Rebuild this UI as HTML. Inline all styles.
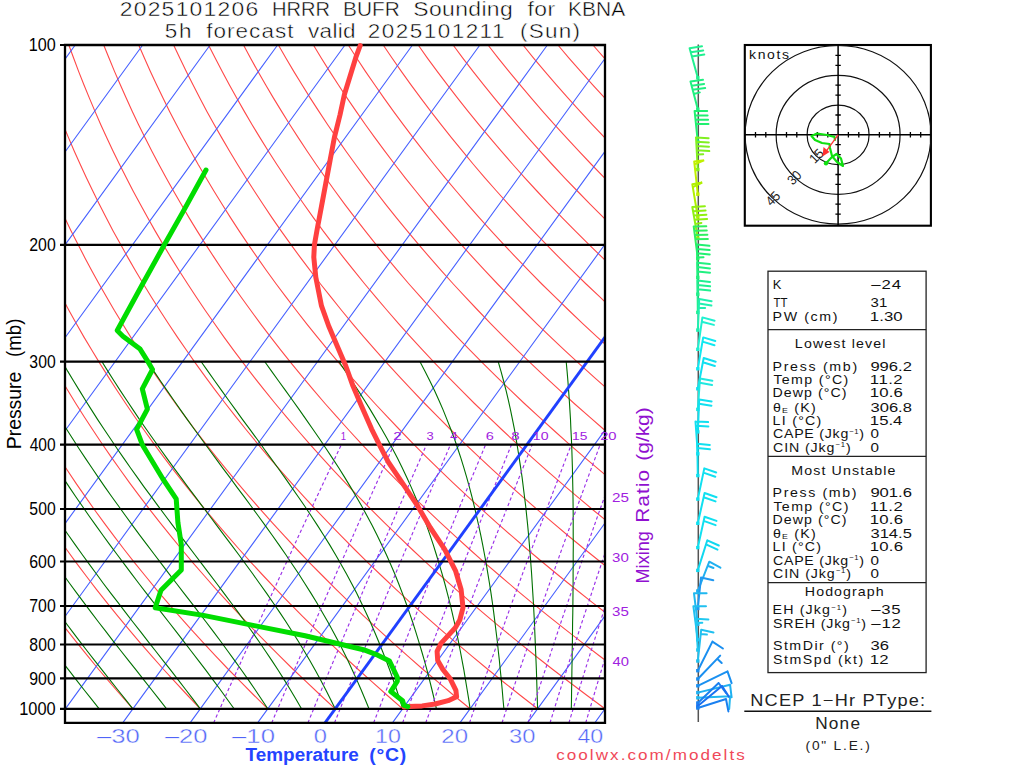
<!DOCTYPE html><html><head><meta charset="utf-8"><style>html,body{margin:0;padding:0;background:#fff;overflow:hidden}svg{display:block;}text{font-family:"Liberation Sans",sans-serif;}</style></head><body>
<svg width="1024" height="768" viewBox="0 0 1024 768">
<rect width="1024" height="768" fill="#fff"/>
<g fill="none" stroke-width="1.1">
<path d="M65.4,708.8 L65.0,708.3 M132.9,708.8 L121.1,695.5 L109.6,682.2 L98.3,669.0 L87.4,655.7 L76.7,642.4 L66.2,629.1 L65.0,627.5 M200.3,708.8 L187.7,695.5 L175.3,682.2 L163.2,669.0 L151.4,655.7 L139.8,642.4 L128.6,629.1 L117.6,615.9 L106.9,602.6 L96.4,589.3 L86.2,576.0 L76.3,562.8 L66.6,549.5 L65.0,547.2 M267.8,708.8 L254.2,695.5 L241.0,682.2 L228.0,669.0 L215.3,655.7 L203.0,642.4 L190.9,629.1 L179.1,615.9 L167.6,602.6 L156.3,589.3 L145.4,576.0 L134.7,562.8 L124.2,549.5 L114.0,536.2 L104.1,522.9 L94.5,509.7 L85.1,496.4 L75.9,483.1 L67.0,469.8 L65.0,466.8 M335.2,708.8 L320.8,695.5 L306.7,682.2 L292.8,669.0 L279.3,655.7 L266.1,642.4 L253.2,629.1 L240.6,615.9 L228.3,602.6 L216.2,589.3 L204.5,576.0 L193.0,562.8 L181.8,549.5 L170.9,536.2 L160.2,522.9 L149.8,509.7 L139.7,496.4 L129.8,483.1 L120.2,469.8 L110.9,456.6 L101.7,443.3 L92.9,430.0 L84.2,416.7 L75.8,403.5 L67.7,390.2 L65.0,385.7 M402.7,708.8 L387.4,695.5 L372.4,682.2 L357.7,669.0 L343.3,655.7 L329.3,642.4 L315.5,629.1 L302.1,615.9 L289.0,602.6 L276.2,589.3 L263.6,576.0 L251.4,562.8 L239.4,549.5 L227.7,536.2 L216.3,522.9 L205.2,509.7 L194.4,496.4 L183.8,483.1 L173.4,469.8 L163.4,456.6 L153.6,443.3 L144.0,430.0 L134.7,416.7 L125.7,403.5 L116.9,390.2 L108.3,376.9 L100.0,363.6 L91.9,350.3 L84.0,337.1 L76.4,323.8 L69.0,310.5 L65.0,303.1 M470.1,708.8 L453.9,695.5 L438.1,682.2 L422.5,669.0 L407.3,655.7 L392.4,642.4 L377.9,629.1 L363.6,615.9 L349.7,602.6 L336.1,589.3 L322.8,576.0 L309.7,562.8 L297.0,549.5 L284.6,536.2 L272.4,522.9 L260.6,509.7 L249.0,496.4 L237.7,483.1 L226.7,469.8 L215.9,456.6 L205.4,443.3 L195.2,430.0 L185.2,416.7 L175.5,403.5 L166.1,390.2 L156.9,376.9 L147.9,363.6 L139.2,350.3 L130.7,337.1 L122.5,323.8 L114.4,310.5 L106.7,297.2 L99.1,284.0 L91.8,270.7 L84.7,257.4 L77.8,244.1 L71.1,230.9 L65.0,218.2 M537.6,708.8 L520.5,695.5 L503.8,682.2 L487.4,669.0 L471.3,655.7 L455.6,642.4 L440.2,629.1 L425.1,615.9 L410.4,602.6 L396.0,589.3 L381.9,576.0 L368.1,562.8 L354.6,549.5 L341.4,536.2 L328.5,522.9 L315.9,509.7 L303.6,496.4 L291.6,483.1 L279.9,469.8 L268.4,456.6 L257.3,443.3 L246.4,430.0 L235.7,416.7 L225.4,403.5 L215.2,390.2 L205.4,376.9 L195.8,363.6 L186.5,350.3 L177.4,337.1 L168.5,323.8 L159.9,310.5 L151.5,297.2 L143.4,284.0 L135.5,270.7 L127.8,257.4 L120.4,244.1 L113.1,230.9 L106.1,217.6 L99.3,204.3 L92.8,191.0 L86.4,177.8 L80.3,164.5 L74.3,151.2 L68.6,137.9 L65.0,129.3 M605.0,708.8 L587.1,695.5 L569.5,682.2 L552.2,669.0 L535.3,655.7 L518.7,642.4 L502.5,629.1 L486.7,615.9 L471.1,602.6 L455.9,589.3 L441.0,576.0 L426.5,562.8 L412.2,549.5 L398.3,536.2 L384.6,522.9 L371.3,509.7 L358.3,496.4 L345.6,483.1 L333.1,469.8 L321.0,456.6 L309.1,443.3 L297.5,430.0 L286.2,416.7 L275.2,403.5 L264.4,390.2 L253.9,376.9 L243.7,363.6 L233.7,350.3 L224.0,337.1 L214.6,323.8 L205.3,310.5 L196.4,297.2 L187.7,284.0 L179.2,270.7 L170.9,257.4 L162.9,244.1 L155.1,230.9 L147.6,217.6 L140.3,204.3 L133.1,191.0 L126.3,177.8 L119.6,164.5 L113.1,151.2 L106.9,137.9 L100.8,124.7 L95.0,111.4 L89.4,98.1 L83.9,84.8 L78.7,71.6 L73.7,58.3 L68.8,45.0 M605.0,660.0 L599.3,655.7 L581.9,642.4 L564.9,629.1 L548.2,615.9 L531.8,602.6 L515.8,589.3 L500.2,576.0 L484.8,562.8 L469.8,549.5 L455.1,536.2 L440.7,522.9 L426.7,509.7 L412.9,496.4 L399.5,483.1 L386.4,469.8 L373.5,456.6 L361.0,443.3 L348.7,430.0 L336.7,416.7 L325.0,403.5 L313.6,390.2 L302.5,376.9 L291.6,363.6 L281.0,350.3 L270.7,337.1 L260.6,323.8 L250.8,310.5 L241.2,297.2 L231.9,284.0 L222.9,270.7 L214.1,257.4 L205.5,244.1 L197.1,230.9 L189.0,217.6 L181.2,204.3 L173.5,191.0 L166.1,177.8 L158.9,164.5 L151.9,151.2 L145.2,137.9 L138.6,124.7 L132.3,111.4 L126.2,98.1 L120.3,84.8 L114.6,71.6 L109.1,58.3 L103.7,45.0 M605.0,612.2 L592.5,602.6 L575.7,589.3 L559.3,576.0 L543.2,562.8 L527.4,549.5 L512.0,536.2 L496.8,522.9 L482.1,509.7 L467.6,496.4 L453.4,483.1 L439.6,469.8 L426.0,456.6 L412.8,443.3 L399.9,430.0 L387.2,416.7 L374.9,403.5 L362.8,390.2 L351.0,376.9 L339.5,363.6 L328.3,350.3 L317.4,337.1 L306.7,323.8 L296.3,310.5 L286.1,297.2 L276.2,284.0 L266.6,270.7 L257.2,257.4 L248.0,244.1 L239.1,230.9 L230.5,217.6 L222.1,204.3 L213.9,191.0 L206.0,177.8 L198.2,164.5 L190.8,151.2 L183.5,137.9 L176.5,124.7 L169.6,111.4 L163.0,98.1 L156.6,84.8 L150.4,71.6 L144.5,58.3 L138.7,45.0 M605.0,565.5 L601.5,562.8 L585.0,549.5 L568.8,536.2 L553.0,522.9 L537.4,509.7 L522.2,496.4 L507.4,483.1 L492.8,469.8 L478.6,456.6 L464.6,443.3 L451.0,430.0 L437.7,416.7 L424.7,403.5 L412.0,390.2 L399.6,376.9 L387.4,363.6 L375.6,350.3 L364.0,337.1 L352.7,323.8 L341.7,310.5 L331.0,297.2 L320.5,284.0 L310.3,270.7 L300.3,257.4 L290.6,244.1 L281.1,230.9 L271.9,217.6 L263.0,204.3 L254.3,191.0 L245.8,177.8 L237.6,164.5 L229.6,151.2 L221.8,137.9 L214.3,124.7 L206.9,111.4 L199.8,98.1 L193.0,84.8 L186.3,71.6 L179.9,58.3 L173.6,45.0 M605.0,519.6 L592.8,509.7 L576.9,496.4 L561.3,483.1 L546.0,469.8 L531.1,456.6 L516.5,443.3 L502.2,430.0 L488.2,416.7 L474.5,403.5 L461.2,390.2 L448.1,376.9 L435.3,363.6 L422.9,350.3 L410.7,337.1 L398.8,323.8 L387.2,310.5 L375.8,297.2 L364.8,284.0 L354.0,270.7 L343.4,257.4 L333.2,244.1 L323.1,230.9 L313.4,217.6 L303.9,204.3 L294.7,191.0 L285.7,177.8 L276.9,164.5 L268.4,151.2 L260.1,137.9 L252.1,124.7 L244.3,111.4 L236.7,98.1 L229.3,84.8 L222.2,71.6 L215.3,58.3 L208.5,45.0 M605.0,474.6 L599.3,469.8 L583.6,456.6 L568.3,443.3 L553.4,430.0 L538.7,416.7 L524.4,403.5 L510.4,390.2 L496.7,376.9 L483.3,363.6 L470.2,350.3 L457.3,337.1 L444.8,323.8 L432.6,310.5 L420.7,297.2 L409.0,284.0 L397.6,270.7 L386.5,257.4 L375.7,244.1 L365.2,230.9 L354.9,217.6 L344.8,204.3 L335.0,191.0 L325.5,177.8 L316.2,164.5 L307.2,151.2 L298.4,137.9 L289.9,124.7 L281.6,111.4 L273.5,98.1 L265.6,84.8 L258.0,71.6 L250.6,58.3 L243.5,45.0 M605.0,430.4 L604.5,430.0 L589.2,416.7 L574.2,403.5 L559.6,390.2 L545.2,376.9 L531.2,363.6 L517.4,350.3 L504.0,337.1 L490.9,323.8 L478.1,310.5 L465.5,297.2 L453.3,284.0 L441.3,270.7 L429.7,257.4 L418.3,244.1 L407.2,230.9 L396.3,217.6 L385.7,204.3 L375.4,191.0 L365.4,177.8 L355.6,164.5 L346.0,151.2 L336.7,137.9 L327.7,124.7 L318.9,111.4 L310.3,98.1 L302.0,84.8 L293.9,71.6 L286.0,58.3 L278.4,45.0 M605.0,386.9 L593.7,376.9 L579.1,363.6 L564.7,350.3 L550.7,337.1 L536.9,323.8 L523.5,310.5 L510.4,297.2 L497.6,284.0 L485.0,270.7 L472.8,257.4 L460.8,244.1 L449.2,230.9 L437.8,217.6 L426.6,204.3 L415.8,191.0 L405.2,177.8 L394.9,164.5 L384.8,151.2 L375.0,137.9 L365.5,124.7 L356.2,111.4 L347.1,98.1 L338.3,84.8 L329.8,71.6 L321.4,58.3 L313.4,45.0 M605.0,344.0 L597.3,337.1 L583.0,323.8 L569.0,310.5 L555.3,297.2 L541.8,284.0 L528.7,270.7 L515.9,257.4 L503.4,244.1 L491.2,230.9 L479.2,217.6 L467.6,204.3 L456.2,191.0 L445.1,177.8 L434.2,164.5 L423.6,151.2 L413.3,137.9 L403.3,124.7 L393.5,111.4 L384.0,98.1 L374.7,84.8 L365.6,71.6 L356.8,58.3 L348.3,45.0 M605.0,301.8 L600.1,297.2 L586.1,284.0 L572.4,270.7 L559.0,257.4 L546.0,244.1 L533.2,230.9 L520.7,217.6 L508.5,204.3 L496.5,191.0 L484.9,177.8 L473.5,164.5 L462.5,151.2 L451.6,137.9 L441.1,124.7 L430.8,111.4 L420.8,98.1 L411.0,84.8 L401.5,71.6 L392.2,58.3 L383.2,45.0 M605.0,260.1 L602.2,257.4 L588.5,244.1 L575.2,230.9 L562.1,217.6 L549.4,204.3 L536.9,191.0 L524.8,177.8 L512.9,164.5 L501.3,151.2 L490.0,137.9 L478.9,124.7 L468.1,111.4 L457.6,98.1 L447.4,84.8 L437.4,71.6 L427.6,58.3 L418.2,45.0 M605.0,219.0 L603.6,217.6 L590.3,204.3 L577.3,191.0 L564.6,177.8 L552.2,164.5 L540.1,151.2 L528.3,137.9 L516.7,124.7 L505.4,111.4 L494.4,98.1 L483.7,84.8 L473.2,71.6 L463.0,58.3 L453.1,45.0 M605.0,178.3 L604.5,177.8 L591.5,164.5 L578.9,151.2 L566.6,137.9 L554.5,124.7 L542.7,111.4 L531.3,98.1 L520.1,84.8 L509.1,71.6 L498.4,58.3 L488.0,45.0 M605.0,138.1 L604.9,137.9 L592.3,124.7 L580.1,111.4 L568.1,98.1 L556.4,84.8 L545.0,71.6 L533.8,58.3 L523.0,45.0 M605.0,98.2 L604.9,98.1 L592.7,84.8 L580.9,71.6 L569.2,58.3 L557.9,45.0 M605.0,58.7 L604.6,58.3 L592.9,45.0" stroke="#ff4848"/>
<path d="M65.0,59.1 L75.2,45.0 M65.0,152.0 L142.7,45.0 M65.0,244.9 L210.1,45.0 M65.0,337.8 L277.6,45.0 M65.0,430.7 L345.0,45.0 M65.0,523.6 L412.5,45.0 M65.0,616.5 L479.9,45.0 M65.0,709.4 L547.4,45.0 M122.7,722.9 L605.0,58.5 M190.1,722.9 L605.0,151.4 M257.6,722.9 L605.0,244.3 M392.4,722.9 L605.0,430.1 M459.9,722.9 L605.0,523.0 M527.4,722.9 L605.0,615.9 M594.8,722.9 L605.0,708.8" stroke="#4660ff"/>
<path d="M65.4,708.8 L65.0,708.2 M99.2,708.8 L91.5,699.2 L83.8,689.5 L76.3,679.9 L68.8,670.2 L65.0,665.3 M132.9,708.8 L125.2,699.2 L117.5,689.5 L109.9,679.9 L102.2,670.2 L94.7,660.6 L87.2,651.0 L79.8,641.3 L72.4,631.7 L65.2,622.0 L65.0,621.8 M166.6,708.8 L159.0,699.2 L151.4,689.5 L143.8,679.9 L136.2,670.2 L128.6,660.6 L121.0,651.0 L113.4,641.3 L106.0,631.7 L98.5,622.0 L91.2,612.4 L83.9,602.7 L76.8,593.1 L69.7,583.5 L65.0,577.0 M200.3,708.8 L193.0,699.2 L185.6,689.5 L178.2,679.9 L170.7,670.2 L163.1,660.6 L155.6,651.0 L148.0,641.3 L140.5,631.7 L132.9,622.0 L125.5,612.4 L118.1,602.7 L110.7,593.1 L103.4,583.5 L96.3,573.8 L89.2,564.2 L82.2,554.5 L75.3,544.9 L68.5,535.3 L65.0,530.2 M234.1,708.8 L227.2,699.2 L220.2,689.5 L213.0,679.9 L205.8,670.2 L198.5,660.6 L191.1,651.0 L183.7,641.3 L176.2,631.7 L168.7,622.0 L161.2,612.4 L153.7,602.7 L146.3,593.1 L138.9,583.5 L131.6,573.8 L124.3,564.2 L117.1,554.5 L109.9,544.9 L102.9,535.3 L96.0,525.6 L89.1,516.0 L82.4,506.3 L75.8,496.7 L69.3,487.1 L65.0,480.6 M267.8,708.8 L261.5,699.2 L255.0,689.5 L248.4,679.9 L241.6,670.2 L234.7,660.6 L227.7,651.0 L220.6,641.3 L213.4,631.7 L206.1,622.0 L198.7,612.4 L191.3,602.7 L183.9,593.1 L176.5,583.5 L169.1,573.8 L161.7,564.2 L154.4,554.5 L147.1,544.9 L139.9,535.3 L132.7,525.6 L125.7,516.0 L118.7,506.3 L111.8,496.7 L105.0,487.1 L98.3,477.4 L91.8,467.8 L85.3,458.1 L78.9,448.5 L72.7,438.8 L66.6,429.2 L65.0,426.6 M301.5,708.8 L296.0,699.2 L290.2,689.5 L284.3,679.9 L278.2,670.2 L271.9,660.6 L265.4,651.0 L258.8,641.3 L252.1,631.7 L245.2,622.0 L238.2,612.4 L231.1,602.7 L223.9,593.1 L216.7,583.5 L209.4,573.8 L202.0,564.2 L194.7,554.5 L187.4,544.9 L180.1,535.3 L172.8,525.6 L165.6,516.0 L158.4,506.3 L151.3,496.7 L144.2,487.1 L137.3,477.4 L130.4,467.8 L123.7,458.1 L117.0,448.5 L110.5,438.8 L104.1,429.2 L97.7,419.6 L91.5,409.9 L85.4,400.3 L79.5,390.6 L73.6,381.0 L67.8,371.4 L65.0,366.5 M335.2,708.8 L330.5,699.2 L325.6,689.5 L320.6,679.9 L315.3,670.2 L309.8,660.6 L304.2,651.0 L298.3,641.3 L292.3,631.7 L286.1,622.0 L279.7,612.4 L273.1,602.7 L266.5,593.1 L259.6,583.5 L252.7,573.8 L245.7,564.2 L238.6,554.5 L231.4,544.9 L224.2,535.3 L216.9,525.6 L209.7,516.0 L202.4,506.3 L195.2,496.7 L188.0,487.1 L180.9,477.4 L173.8,467.8 L166.8,458.1 L159.9,448.5 L153.0,438.8 L146.3,429.2 L139.6,419.6 L133.1,409.9 L126.7,400.3 L120.3,390.6 L114.1,381.0 L108.0,371.4 L102.0,361.7 M369.0,708.8 L365.1,699.2 L361.0,689.5 L356.8,679.9 L352.4,670.2 L347.9,660.6 L343.2,651.0 L338.3,641.3 L333.2,631.7 L327.9,622.0 L322.4,612.4 L316.8,602.7 L310.9,593.1 L304.8,583.5 L298.6,573.8 L292.2,564.2 L285.7,554.5 L279.0,544.9 L272.2,535.3 L265.3,525.6 L258.3,516.0 L251.2,506.3 L244.1,496.7 L236.9,487.1 L229.8,477.4 L222.6,467.8 L215.5,458.1 L208.4,448.5 L201.3,438.8 L194.3,429.2 L187.4,419.6 L180.5,409.9 L173.8,400.3 L167.1,390.6 L160.5,381.0 L154.0,371.4 L147.7,361.7 M402.7,708.8 L399.7,699.2 L396.5,689.5 L393.2,679.9 L389.8,670.2 L386.2,660.6 L382.4,651.0 L378.5,641.3 L374.5,631.7 L370.3,622.0 L365.9,612.4 L361.3,602.7 L356.6,593.1 L351.6,583.5 L346.4,573.8 L341.0,564.2 L335.4,554.5 L329.7,544.9 L323.7,535.3 L317.6,525.6 L311.3,516.0 L304.8,506.3 L298.2,496.7 L291.5,487.1 L284.7,477.4 L277.8,467.8 L270.8,458.1 L263.8,448.5 L256.8,438.8 L249.7,429.2 L242.6,419.6 L235.6,409.9 L228.6,400.3 L221.7,390.6 L214.8,381.0 L208.0,371.4 L201.2,361.7 M436.4,708.8 L434.2,699.2 L431.9,689.5 L429.5,679.9 L427.0,670.2 L424.4,660.6 L421.6,651.0 L418.7,641.3 L415.7,631.7 L412.6,622.0 L409.3,612.4 L405.9,602.7 L402.3,593.1 L398.6,583.5 L394.7,573.8 L390.6,564.2 L386.3,554.5 L381.8,544.9 L377.1,535.3 L372.2,525.6 L367.1,516.0 L361.8,506.3 L356.3,496.7 L350.6,487.1 L344.7,477.4 L338.7,467.8 L332.4,458.1 L326.0,448.5 L319.5,438.8 L312.9,429.2 L306.2,419.6 L299.4,409.9 L292.5,400.3 L285.6,390.6 L278.6,381.0 L271.7,371.4 L264.8,361.7 M470.1,708.8 L468.7,699.2 L467.1,689.5 L465.5,679.9 L463.9,670.2 L462.1,660.6 L460.3,651.0 L458.4,641.3 L456.4,631.7 L454.3,622.0 L452.1,612.4 L449.8,602.7 L447.3,593.1 L444.8,583.5 L442.1,573.8 L439.2,564.2 L436.3,554.5 L433.3,544.9 L430.1,535.3 L426.7,525.6 L423.1,516.0 L419.3,506.3 L415.3,496.7 L411.2,487.1 L406.8,477.4 L402.2,467.8 L397.4,458.1 L392.4,448.5 L387.2,438.8 L381.8,429.2 L376.2,419.6 L370.4,409.9 L364.4,400.3 L358.2,390.6 L352.0,381.0 L345.5,371.4 L339.0,361.7 M503.9,708.8 L503.0,699.2 L502.2,689.5 L501.3,679.9 L500.3,670.2 L499.4,660.6 L498.3,651.0 L497.3,641.3 L496.1,631.7 L494.9,622.0 L493.7,612.4 L492.4,602.7 L491.0,593.1 L489.5,583.5 L487.9,573.8 L486.3,564.2 L484.5,554.5 L482.7,544.9 L480.8,535.3 L478.7,525.6 L476.5,516.0 L474.3,506.3 L471.9,496.7 L469.4,487.1 L466.7,477.4 L463.9,467.8 L460.9,458.1 L457.7,448.5 L454.4,438.8 L450.8,429.2 L447.0,419.6 L443.1,409.9 L438.9,400.3 L434.5,390.6 L429.9,381.0 L425.1,371.4 L420.0,361.7 M537.6,708.8 L537.3,699.2 L537.0,689.5 L536.7,679.9 L536.4,670.2 L536.0,660.6 L535.6,651.0 L535.2,641.3 L534.8,631.7 L534.4,622.0 L533.9,612.4 L533.4,602.7 L532.8,593.1 L532.2,583.5 L531.6,573.8 L530.9,564.2 L530.2,554.5 L529.4,544.9 L528.6,535.3 L527.7,525.6 L526.7,516.0 L525.7,506.3 L524.5,496.7 L523.3,487.1 L522.1,477.4 L520.7,467.8 L519.2,458.1 L517.7,448.5 L516.1,438.8 L514.4,429.2 L512.5,419.6 L510.5,409.9 L508.4,400.3 L506.1,390.6 L503.6,381.0 L501.0,371.4 L498.2,361.7 M571.3,708.8 L571.5,699.2 L571.6,689.5 L571.8,679.9 L571.9,670.2 L572.1,660.6 L572.2,651.0 L572.4,641.3 L572.5,631.7 L572.6,622.0 L572.8,612.4 L572.9,602.7 L573.0,593.1 L573.1,583.5 L573.1,573.8 L573.2,564.2 L573.2,554.5 L573.3,544.9 L573.2,535.3 L573.2,525.6 L573.2,516.0 L573.1,506.3 L573.0,496.7 L572.8,487.1 L572.6,477.4 L572.4,467.8 L572.1,458.1 L571.8,448.5 L571.4,438.8 L570.9,429.2 L570.5,419.6 L569.9,409.9 L569.3,400.3 L568.6,390.6 L567.9,381.0 L567.1,371.4 L566.2,361.7" stroke="#007000"/>
<path d="M213.6,722.9 L219.8,709.0 L226.0,695.0 L232.3,681.1 L238.6,667.2 L244.8,653.3 L251.2,639.4 L257.5,625.5 L263.8,611.6 L270.2,597.7 L276.6,583.8 L283.0,569.8 L289.4,555.9 L295.8,542.0 L302.3,528.1 L308.8,514.2 L315.3,500.3 L321.8,486.4 L328.3,472.5 L334.8,458.6 L341.4,444.6 M271.7,722.9 L277.6,709.0 L283.6,695.0 L289.5,681.1 L295.5,667.2 L301.5,653.3 L307.5,639.4 L313.6,625.5 L319.6,611.6 L325.7,597.7 L331.8,583.8 L337.9,569.8 L344.1,555.9 L350.3,542.0 L356.4,528.1 L362.6,514.2 L368.9,500.3 L375.1,486.4 L381.4,472.5 L387.7,458.6 L394.0,444.6 M307.9,722.9 L313.6,709.0 L319.3,695.0 L325.1,681.1 L330.9,667.2 L336.7,653.3 L342.5,639.4 L348.4,625.5 L354.3,611.6 L360.2,597.7 L366.1,583.8 L372.0,569.8 L378.0,555.9 L384.0,542.0 L390.0,528.1 L396.0,514.2 L402.1,500.3 L408.2,486.4 L414.3,472.5 L420.4,458.6 L426.5,444.6 M334.5,722.9 L340.1,709.0 L345.7,695.0 L351.3,681.1 L357.0,667.2 L362.6,653.3 L368.3,639.4 L374.1,625.5 L379.8,611.6 L385.6,597.7 L391.4,583.8 L397.2,569.8 L403.0,555.9 L408.9,542.0 L414.7,528.1 L420.6,514.2 L426.6,500.3 L432.5,486.4 L438.5,472.5 L444.5,458.6 L450.5,444.6 M373.6,722.9 L379.0,709.0 L384.4,695.0 L389.8,681.1 L395.2,667.2 L400.7,653.3 L406.2,639.4 L411.7,625.5 L417.2,611.6 L422.8,597.7 L428.4,583.8 L434.0,569.8 L439.6,555.9 L445.3,542.0 L451.0,528.1 L456.7,514.2 L462.4,500.3 L468.2,486.4 L474.0,472.5 L479.8,458.6 L485.6,444.6 M402.6,722.9 L407.8,709.0 L413.0,695.0 L418.2,681.1 L423.5,667.2 L428.8,653.3 L434.2,639.4 L439.5,625.5 L444.9,611.6 L450.3,597.7 L455.7,583.8 L461.2,569.8 L466.7,555.9 L472.2,542.0 L477.8,528.1 L483.3,514.2 L488.9,500.3 L494.5,486.4 L500.2,472.5 L505.8,458.6 L511.5,444.6 M425.7,722.9 L430.8,709.0 L435.9,695.0 L441.0,681.1 L446.1,667.2 L451.3,653.3 L456.5,639.4 L461.8,625.5 L467.0,611.6 L472.3,597.7 L477.6,583.8 L483.0,569.8 L488.3,555.9 L493.7,542.0 L499.1,528.1 L504.6,514.2 L510.1,500.3 L515.6,486.4 L521.1,472.5 L526.6,458.6 L532.2,444.6 M469.5,722.9 L474.3,709.0 L479.1,695.0 L484.0,681.1 L488.9,667.2 L493.8,653.3 L498.8,639.4 L503.8,625.5 L508.8,611.6 L513.8,597.7 L518.9,583.8 L524.0,569.8 L529.2,555.9 L534.3,542.0 L539.5,528.1 L544.7,514.2 L550.0,500.3 L555.3,486.4 L560.6,472.5 L565.9,458.6 L571.3,444.6 M502.0,722.9 L506.6,709.0 L511.2,695.0 L515.9,681.1 L520.6,667.2 L525.4,653.3 L530.1,639.4 L534.9,625.5 L539.8,611.6 L544.6,597.7 L549.5,583.8 L554.5,569.8 L559.4,555.9 L564.4,542.0 L569.4,528.1 L574.5,514.2 L579.6,500.3 L584.7,486.4 L589.8,472.5 L595.0,458.6 L600.2,444.6 M528.1,722.9 L532.5,709.0 L537.0,695.0 L541.5,681.1 L546.1,667.2 L550.7,653.3 L555.3,639.4 L559.9,625.5 L564.6,611.6 L569.4,597.7 L574.1,583.8 L578.9,569.8 L583.7,555.9 L588.6,542.0 L593.4,528.1 L598.3,514.2 L603.3,500.3 L605.0,495.5 M550.0,722.9 L554.3,709.0 L558.6,695.0 L563.0,681.1 L567.5,667.2 L571.9,653.3 L576.4,639.4 L580.9,625.5 L585.5,611.6 L590.1,597.7 L594.7,583.8 L599.4,569.8 L604.1,555.9 L605.0,553.2 M568.9,722.9 L573.1,709.0 L577.4,695.0 L581.7,681.1 L586.0,667.2 L590.3,653.3 L594.7,639.4 L599.1,625.5 L603.6,611.6 L605.0,607.1 M585.7,722.9 L589.8,709.0 L594.0,695.0 L598.1,681.1 L602.3,667.2 L605.0,658.5" stroke="#9a30e8" stroke-dasharray="3.3,2.5" stroke-width="1.15"/>
</g>
<path d="M325.0,722.9 L605.0,337.2" stroke="#2040ff" stroke-width="2.9" fill="none"/>
<path d="M60,45.0 L605.0,45.0 M60,244.8 L605.0,244.8 M60,361.7 L605.0,361.7 M60,444.6 L605.0,444.6 M60,509.0 L605.0,509.0 M60,561.5 L605.0,561.5 M60,606.0 L605.0,606.0 M60,644.5 L605.0,644.5 M60,678.4 L605.0,678.4 M60,708.8 L605.0,708.8 " stroke="#000" stroke-width="2.2" fill="none"/>
<path d="M65.0,45.0 L605.0,45.0 L605.0,722.9 L65.0,722.9 Z" stroke="#000" stroke-width="2.3" fill="none"/>
<polyline points="360.2,45.5 355.9,57.2 350.2,75.8 344.4,94.4 340.1,114.5 334.4,137.4 330.1,160.3 325.8,183.3 321.5,206.2 317.2,229.1 314.4,244.9 313.8,257.2 315.8,277.2 321.5,305.9 328.7,326.0 337.2,346.0 345.8,366.0 353.0,386.1 361.6,406.2 371.6,429.1 380.2,446.3 388.2,461.9 402.8,483.7 417.4,505.6 430.2,527.5 444.7,549.4 455.7,571.2 461.1,589.5 463.0,607.7 459.8,620.0 455.3,627.8 448.1,635.6 441.0,643.4 437.1,651.3 437.7,660.4 442.9,669.5 450.1,678.6 455.9,690.3 456.6,696.8 448.1,700.7 435.1,704.0 422.1,705.9 409.1,706.6 404.0,707.0" fill="none" stroke="#ff4040" stroke-width="5" stroke-linejoin="round" stroke-linecap="round"/>
<polyline points="206.0,170.0 183.1,211.6 164.5,244.5 143.0,283.2 117.2,330.5 122.9,336.2 140.1,349.1 147.3,360.6 152.5,369.5 142.3,388.8 147.4,409.1 136.6,429.4 142.3,444.7 162.6,478.5 176.2,498.8 177.9,522.5 181.3,544.6 181.3,570.0 161.0,590.3 155.2,607.8 203.5,615.4 254.3,625.6 305.1,635.7 363.5,649.7 377.8,655.2 389.5,661.0 397.3,677.3 397.3,681.2 390.8,691.6 402.6,700.7 403.9,705.3 407.8,706.6" fill="none" stroke="#00dd00" stroke-width="5" stroke-linejoin="round" stroke-linecap="round"/>
<text transform="translate(30.00,51.20) scale(0.9159,1)" x="-1.41" y="0" font-size="17.68" fill="#000" textLength="29.50" lengthAdjust="spacing" >100</text>
<text transform="translate(30.00,251.02) scale(0.8985,1)" x="-0.88" y="0" font-size="17.68" fill="#000" textLength="29.50" lengthAdjust="spacing" >200</text>
<text transform="translate(30.00,367.91) scale(0.8928,1)" x="-0.71" y="0" font-size="17.68" fill="#000" textLength="29.50" lengthAdjust="spacing" >300</text>
<text transform="translate(30.00,450.85) scale(0.8817,1)" x="-0.35" y="0" font-size="17.68" fill="#000" textLength="29.50" lengthAdjust="spacing" >400</text>
<text transform="translate(30.00,515.18) scale(0.8928,1)" x="-0.71" y="0" font-size="17.68" fill="#000" textLength="29.50" lengthAdjust="spacing" >500</text>
<text transform="translate(30.00,567.74) scale(0.8985,1)" x="-0.88" y="0" font-size="17.68" fill="#000" textLength="29.50" lengthAdjust="spacing" >600</text>
<text transform="translate(30.00,612.18) scale(0.8985,1)" x="-0.88" y="0" font-size="17.68" fill="#000" textLength="29.50" lengthAdjust="spacing" >700</text>
<text transform="translate(30.00,650.67) scale(0.8928,1)" x="-0.71" y="0" font-size="17.68" fill="#000" textLength="29.50" lengthAdjust="spacing" >800</text>
<text transform="translate(30.00,684.63) scale(0.8985,1)" x="-0.88" y="0" font-size="17.68" fill="#000" textLength="29.50" lengthAdjust="spacing" >900</text>
<text transform="translate(20.50,715.00) scale(0.9274,1)" x="-1.41" y="0" font-size="17.68" fill="#000" textLength="39.33" lengthAdjust="spacing" >1000</text>
<text transform="translate(20.80,447.70) rotate(-90) scale(0.9906,1)" x="-1.57" y="0" font-size="19.57" fill="#000" textLength="78.29" lengthAdjust="spacing" >Pressure</text>
<text transform="translate(20.80,355.90) rotate(-90) scale(0.9560,1)" x="-1.17" y="0" font-size="19.57" fill="#000" textLength="40.21" lengthAdjust="spacing" >(mb)</text>
<text transform="translate(97.00,743.40) scale(1.2669,1)" x="0.00" y="0" font-size="20.29" fill="#5064f8" textLength="33.85" lengthAdjust="spacing" stroke="#fff" stroke-width="0.40" >&#8211;30</text>
<text transform="translate(164.90,743.40) scale(1.2578,1)" x="0.00" y="0" font-size="20.29" fill="#5064f8" textLength="33.85" lengthAdjust="spacing" stroke="#fff" stroke-width="0.40" >&#8211;20</text>
<text transform="translate(232.00,743.40) scale(1.2699,1)" x="0.00" y="0" font-size="20.29" fill="#5064f8" textLength="33.85" lengthAdjust="spacing" stroke="#fff" stroke-width="0.40" >&#8211;10</text>
<text transform="translate(314.60,743.40) scale(1.1705,1)" x="-0.81" y="0" font-size="20.29" fill="#5064f8" textLength="11.28" lengthAdjust="spacing" stroke="#fff" stroke-width="0.40" >0</text>
<text transform="translate(376.90,743.40) scale(1.1484,1)" x="-1.62" y="0" font-size="20.29" fill="#5064f8" textLength="22.57" lengthAdjust="spacing" stroke="#fff" stroke-width="0.40" >10</text>
<text transform="translate(442.50,743.40) scale(1.1819,1)" x="-1.01" y="0" font-size="20.29" fill="#5064f8" textLength="22.57" lengthAdjust="spacing" stroke="#fff" stroke-width="0.40" >20</text>
<text transform="translate(510.00,743.40) scale(1.1705,1)" x="-0.81" y="0" font-size="20.29" fill="#5064f8" textLength="22.57" lengthAdjust="spacing" stroke="#fff" stroke-width="0.40" >30</text>
<text transform="translate(577.90,743.40) scale(1.1438,1)" x="-0.41" y="0" font-size="20.29" fill="#5064f8" textLength="22.57" lengthAdjust="spacing" stroke="#fff" stroke-width="0.40" >40</text>
<text transform="translate(245.80,760.60) scale(1.0702,1)" x="-0.18" y="0" font-size="17.68" fill="#2444ff" textLength="105.79" lengthAdjust="spacing" font-weight="bold" >Temperature</text>
<text transform="translate(370.30,760.60) scale(1.1000,1)" x="-0.88" y="0" font-size="17.68" fill="#2444ff" textLength="33.46" lengthAdjust="spacing" font-weight="bold" >(&#176;C)</text>
<text transform="translate(556.80,760.30) scale(1.1000,1)" x="-0.62" y="0" font-size="15.51" fill="#f04858" textLength="171.55" lengthAdjust="spacing" >coolwx.com/modelts</text>
<text transform="translate(341.60,439.80) scale(0.8224,1)" x="-0.93" y="0" font-size="11.59" fill="#a020e0" textLength="6.45" lengthAdjust="spacing" >1</text>
<text transform="translate(394.00,439.80) scale(1.3000,1)" x="-0.58" y="0" font-size="11.59" fill="#a020e0" textLength="6.58" lengthAdjust="spacing" >2</text>
<text transform="translate(427.10,439.80) scale(1.1194,1)" x="-0.46" y="0" font-size="11.59" fill="#a020e0" textLength="6.45" lengthAdjust="spacing" >3</text>
<text transform="translate(450.30,439.80) scale(1.1669,1)" x="-0.23" y="0" font-size="11.59" fill="#a020e0" textLength="6.45" lengthAdjust="spacing" >4</text>
<text transform="translate(486.40,439.80) scale(1.2563,1)" x="-0.58" y="0" font-size="11.59" fill="#a020e0" textLength="6.45" lengthAdjust="spacing" >6</text>
<text transform="translate(511.90,439.80) scale(1.3000,1)" x="-0.46" y="0" font-size="11.59" fill="#a020e0" textLength="6.61" lengthAdjust="spacing" >8</text>
<text transform="translate(534.00,439.80) scale(1.2161,1)" x="-0.93" y="0" font-size="11.59" fill="#a020e0" textLength="12.89" lengthAdjust="spacing" >10</text>
<text transform="translate(573.10,439.80) scale(1.1902,1)" x="-0.93" y="0" font-size="11.59" fill="#a020e0" textLength="12.89" lengthAdjust="spacing" >15</text>
<text transform="translate(600.90,439.80) scale(1.2728,1)" x="-0.58" y="0" font-size="11.59" fill="#a020e0" textLength="12.89" lengthAdjust="spacing" >20</text>
<text transform="translate(612.70,502.30) scale(1.1686,1)" x="-0.65" y="0" font-size="13.04" fill="#a020e0" textLength="14.51" lengthAdjust="spacing" >25</text>
<text transform="translate(612.70,562.10) scale(1.1574,1)" x="-0.52" y="0" font-size="13.04" fill="#a020e0" textLength="14.51" lengthAdjust="spacing" >30</text>
<text transform="translate(612.70,616.30) scale(1.1574,1)" x="-0.52" y="0" font-size="13.04" fill="#a020e0" textLength="14.51" lengthAdjust="spacing" >35</text>
<text transform="translate(612.70,666.20) scale(1.1355,1)" x="-0.26" y="0" font-size="13.04" fill="#a020e0" textLength="14.51" lengthAdjust="spacing" >40</text>
<text transform="translate(649.00,582.00) rotate(-90) scale(0.9535,1)" x="-1.52" y="0" font-size="18.99" fill="#9010d0" textLength="54.86" lengthAdjust="spacing" >Mixing</text>
<text transform="translate(649.00,521.20) rotate(-90) scale(1.1000,1)" x="-1.52" y="0" font-size="18.99" fill="#9010d0" textLength="48.26" lengthAdjust="spacing" >Ratio</text>
<text transform="translate(649.00,459.40) rotate(-90) scale(1.0990,1)" x="-1.14" y="0" font-size="18.99" fill="#9010d0" textLength="48.53" lengthAdjust="spacing" >(g/kg)</text>
<text transform="translate(120.80,16.25) scale(1.1500,1)" x="-1.00" y="0" font-size="19.93" fill="#000" textLength="120.62" lengthAdjust="spacing" stroke="#fff" stroke-width="0.45" >2025101206</text>
<text transform="translate(273.60,16.25) scale(1.0091,1)" x="-1.59" y="0" font-size="19.93" fill="#000" textLength="57.57" lengthAdjust="spacing" stroke="#fff" stroke-width="0.45" >HRRR</text>
<text transform="translate(344.70,16.25) scale(1.0472,1)" x="-1.59" y="0" font-size="19.93" fill="#000" textLength="54.25" lengthAdjust="spacing" stroke="#fff" stroke-width="0.45" >BUFR</text>
<text transform="translate(414.40,16.25) scale(1.1500,1)" x="-1.00" y="0" font-size="19.93" fill="#000" textLength="86.52" lengthAdjust="spacing" stroke="#fff" stroke-width="0.45" >Sounding</text>
<text transform="translate(527.70,16.25) scale(1.1500,1)" x="-0.20" y="0" font-size="19.93" fill="#000" textLength="24.01" lengthAdjust="spacing" stroke="#fff" stroke-width="0.45" >for</text>
<text transform="translate(569.70,16.25) scale(1.0531,1)" x="-1.59" y="0" font-size="19.93" fill="#000" textLength="54.27" lengthAdjust="spacing" stroke="#fff" stroke-width="0.45" >KBNA</text>
<text transform="translate(165.70,38.30) scale(1.1500,1)" x="-0.78" y="0" font-size="19.57" fill="#000" textLength="23.22" lengthAdjust="spacing" stroke="#fff" stroke-width="0.45" >5h</text>
<text transform="translate(206.50,38.30) scale(1.1500,1)" x="-0.20" y="0" font-size="19.57" fill="#000" textLength="75.81" lengthAdjust="spacing" stroke="#fff" stroke-width="0.45" >forecast</text>
<text transform="translate(308.00,38.30) scale(1.1500,1)" x="0.00" y="0" font-size="19.57" fill="#000" textLength="41.39" lengthAdjust="spacing" stroke="#fff" stroke-width="0.45" >valid</text>
<text transform="translate(368.90,38.30) scale(1.1500,1)" x="-0.98" y="0" font-size="19.57" fill="#000" textLength="118.85" lengthAdjust="spacing" stroke="#fff" stroke-width="0.45" >2025101211</text>
<text transform="translate(521.40,38.30) scale(1.1500,1)" x="-1.17" y="0" font-size="19.57" fill="#000" textLength="52.19" lengthAdjust="spacing" stroke="#fff" stroke-width="0.45" >(Sun)</text>
<g fill="none" stroke="#222" stroke-width="1.3">
<rect x="768" y="271.2" width="158.1" height="401.4"/>
<line x1="768" y1="329.7" x2="926.1" y2="329.7"/>
<line x1="768" y1="456.4" x2="926.1" y2="456.4"/>
<line x1="768" y1="582.6" x2="926.1" y2="582.6"/>
</g>
<text transform="translate(773.70,289.30) scale(1.0065,1)" x="-1.03" y="0" font-size="12.90" fill="#111" textLength="8.60" lengthAdjust="spacing" >K</text>
<text transform="translate(871.20,289.30) scale(1.3000,1)" x="0.00" y="0" font-size="12.90" fill="#111" textLength="22.98" lengthAdjust="spacing" >&#8211;24</text>
<text transform="translate(773.70,307.20) scale(0.8870,1)" x="-0.26" y="0" font-size="12.90" fill="#111" textLength="15.76" lengthAdjust="spacing" >TT</text>
<text transform="translate(871.20,307.20) scale(1.1592,1)" x="-0.52" y="0" font-size="12.90" fill="#111" textLength="14.35" lengthAdjust="spacing" >31</text>
<text transform="translate(773.70,320.90) scale(1.1000,1)" x="-1.03" y="0" font-size="12.90" fill="#111" textLength="59.00" lengthAdjust="spacing" >PW (cm)</text>
<text transform="translate(871.20,320.90) scale(1.3000,1)" x="-1.03" y="0" font-size="12.90" fill="#111" textLength="25.19" lengthAdjust="spacing" >1.30</text>
<text transform="translate(796.00,348.10) scale(1.1000,1)" x="-1.03" y="0" font-size="12.90" fill="#111" textLength="82.29" lengthAdjust="spacing" >Lowest level</text>
<text transform="translate(773.70,370.80) scale(1.1000,1)" x="-1.03" y="0" font-size="12.90" fill="#111" textLength="76.88" lengthAdjust="spacing" >Press (mb)</text>
<text transform="translate(871.20,370.80) scale(1.2868,1)" x="-0.64" y="0" font-size="12.90" fill="#111" textLength="32.27" lengthAdjust="spacing" >996.2</text>
<text transform="translate(773.70,384.10) scale(1.1000,1)" x="-0.26" y="0" font-size="12.90" fill="#111" textLength="68.04" lengthAdjust="spacing" >Temp (&#176;C)</text>
<text transform="translate(871.20,384.10) scale(1.3000,1)" x="-1.03" y="0" font-size="12.90" fill="#111" textLength="25.26" lengthAdjust="spacing" >11.2</text>
<text transform="translate(773.70,397.30) scale(1.1000,1)" x="-1.03" y="0" font-size="12.90" fill="#111" textLength="67.29" lengthAdjust="spacing" >Dewp (&#176;C)</text>
<text transform="translate(871.20,397.30) scale(1.3000,1)" x="-1.03" y="0" font-size="12.90" fill="#111" textLength="25.32" lengthAdjust="spacing" >10.6</text>
<text transform="translate(773.70,411.50) scale(1.1000,1)" x="-0.64" y="0" font-size="12.90" fill="#111" textLength="38.83" lengthAdjust="spacing" >&#952;<tspan font-size="8" dy="1.5">E</tspan><tspan dy="-1.5"> (K)</tspan></text>
<text transform="translate(871.20,411.50) scale(1.2815,1)" x="-0.52" y="0" font-size="12.90" fill="#111" textLength="32.27" lengthAdjust="spacing" >306.8</text>
<text transform="translate(773.70,424.70) scale(1.1000,1)" x="-1.03" y="0" font-size="12.90" fill="#111" textLength="44.35" lengthAdjust="spacing" >LI (&#176;C)</text>
<text transform="translate(871.20,424.70) scale(1.2978,1)" x="-1.03" y="0" font-size="12.90" fill="#111" textLength="25.10" lengthAdjust="spacing" >15.4</text>
<text transform="translate(773.70,438.10) scale(1.1000,1)" x="-0.64" y="0" font-size="12.90" fill="#111" textLength="82.72" lengthAdjust="spacing" >CAPE (Jkg<tspan font-size="7" dy="-4.5">&#8722;1</tspan><tspan dy="4.5">)</tspan></text>
<text transform="translate(871.20,438.10) scale(1.1791,1)" x="-0.52" y="0" font-size="12.90" fill="#111" textLength="7.17" lengthAdjust="spacing" >0</text>
<text transform="translate(773.70,451.60) scale(1.1000,1)" x="-0.64" y="0" font-size="12.90" fill="#111" textLength="70.61" lengthAdjust="spacing" >CIN (Jkg<tspan font-size="7" dy="-4.5">&#8722;1</tspan><tspan dy="4.5">)</tspan></text>
<text transform="translate(871.20,451.60) scale(1.1791,1)" x="-0.52" y="0" font-size="12.90" fill="#111" textLength="7.17" lengthAdjust="spacing" >0</text>
<text transform="translate(792.40,474.60) scale(1.1000,1)" x="-1.03" y="0" font-size="12.90" fill="#111" textLength="94.75" lengthAdjust="spacing" >Most Unstable</text>
<text transform="translate(773.70,497.00) scale(1.1000,1)" x="-1.03" y="0" font-size="12.90" fill="#111" textLength="76.34" lengthAdjust="spacing" >Press (mb)</text>
<text transform="translate(871.20,497.00) scale(1.2900,1)" x="-0.64" y="0" font-size="12.90" fill="#111" textLength="32.27" lengthAdjust="spacing" >901.6</text>
<text transform="translate(773.70,510.70) scale(1.1000,1)" x="-0.26" y="0" font-size="12.90" fill="#111" textLength="68.13" lengthAdjust="spacing" >Temp (&#176;C)</text>
<text transform="translate(871.20,510.70) scale(1.3000,1)" x="-1.03" y="0" font-size="12.90" fill="#111" textLength="25.42" lengthAdjust="spacing" >11.2</text>
<text transform="translate(773.70,524.40) scale(1.1000,1)" x="-1.03" y="0" font-size="12.90" fill="#111" textLength="67.29" lengthAdjust="spacing" >Dewp (&#176;C)</text>
<text transform="translate(871.20,524.40) scale(1.3000,1)" x="-1.03" y="0" font-size="12.90" fill="#111" textLength="25.47" lengthAdjust="spacing" >10.6</text>
<text transform="translate(773.70,537.60) scale(1.1000,1)" x="-0.64" y="0" font-size="12.90" fill="#111" textLength="38.74" lengthAdjust="spacing" >&#952;<tspan font-size="8" dy="1.5">E</tspan><tspan dy="-1.5"> (K)</tspan></text>
<text transform="translate(871.20,537.60) scale(1.2794,1)" x="-0.52" y="0" font-size="12.90" fill="#111" textLength="32.27" lengthAdjust="spacing" >314.5</text>
<text transform="translate(773.70,551.20) scale(1.1000,1)" x="-1.03" y="0" font-size="12.90" fill="#111" textLength="44.07" lengthAdjust="spacing" >LI (&#176;C)</text>
<text transform="translate(871.20,551.20) scale(1.3000,1)" x="-1.03" y="0" font-size="12.90" fill="#111" textLength="25.47" lengthAdjust="spacing" >10.6</text>
<text transform="translate(773.70,564.80) scale(1.1000,1)" x="-0.64" y="0" font-size="12.90" fill="#111" textLength="82.63" lengthAdjust="spacing" >CAPE (Jkg<tspan font-size="7" dy="-4.5">&#8722;1</tspan><tspan dy="4.5">)</tspan></text>
<text transform="translate(871.20,564.80) scale(1.1791,1)" x="-0.52" y="0" font-size="12.90" fill="#111" textLength="7.17" lengthAdjust="spacing" >0</text>
<text transform="translate(773.70,577.80) scale(1.1000,1)" x="-0.64" y="0" font-size="12.90" fill="#111" textLength="70.98" lengthAdjust="spacing" >CIN (Jkg<tspan font-size="7" dy="-4.5">&#8722;1</tspan><tspan dy="4.5">)</tspan></text>
<text transform="translate(871.20,577.80) scale(1.1791,1)" x="-0.52" y="0" font-size="12.90" fill="#111" textLength="7.17" lengthAdjust="spacing" >0</text>
<text transform="translate(806.00,596.40) scale(1.1000,1)" x="-1.03" y="0" font-size="12.90" fill="#111" textLength="71.63" lengthAdjust="spacing" >Hodograph</text>
<text transform="translate(773.70,614.00) scale(1.1000,1)" x="-1.03" y="0" font-size="12.90" fill="#111" textLength="67.60" lengthAdjust="spacing" >EH (Jkg<tspan font-size="7" dy="-4.5">&#8722;1</tspan><tspan dy="4.5">)</tspan></text>
<text transform="translate(871.20,614.00) scale(1.3000,1)" x="0.00" y="0" font-size="12.90" fill="#111" textLength="22.65" lengthAdjust="spacing" >&#8211;35</text>
<text transform="translate(773.70,627.70) scale(1.1000,1)" x="-0.64" y="0" font-size="12.90" fill="#111" textLength="84.60" lengthAdjust="spacing" >SREH (Jkg<tspan font-size="7" dy="-4.5">&#8722;1</tspan><tspan dy="4.5">)</tspan></text>
<text transform="translate(871.20,627.70) scale(1.3000,1)" x="0.00" y="0" font-size="12.90" fill="#111" textLength="22.85" lengthAdjust="spacing" >&#8211;12</text>
<text transform="translate(773.70,650.20) scale(1.1000,1)" x="-0.64" y="0" font-size="12.90" fill="#111" textLength="68.86" lengthAdjust="spacing" >StmDir (&#176;)</text>
<text transform="translate(871.20,650.20) scale(1.2871,1)" x="-0.52" y="0" font-size="12.90" fill="#111" textLength="14.35" lengthAdjust="spacing" >36</text>
<text transform="translate(773.70,663.80) scale(1.1000,1)" x="-0.64" y="0" font-size="12.90" fill="#111" textLength="81.95" lengthAdjust="spacing" >StmSpd (kt)</text>
<text transform="translate(871.20,663.80) scale(1.3000,1)" x="-1.03" y="0" font-size="12.90" fill="#111" textLength="14.50" lengthAdjust="spacing" >12</text>
<text transform="translate(751.70,706.00) scale(1.1000,1)" x="-1.32" y="0" font-size="16.52" fill="#222" textLength="158.98" lengthAdjust="spacing" >NCEP 1&#8722;Hr PType:</text>
<line x1="744.3" y1="711.3" x2="931.4" y2="711.3" stroke="#111" stroke-width="1.6"/>
<text transform="translate(816.60,728.80) scale(1.1000,1)" x="-1.25" y="0" font-size="15.65" fill="#222" textLength="40.68" lengthAdjust="spacing" >None</text>
<text transform="translate(806.40,750.30) scale(1.1000,1)" x="-0.75" y="0" font-size="12.46" fill="#222" textLength="58.36" lengthAdjust="spacing" >(0&quot; L.E.)</text>
<rect x="744.8" y="45" width="186.1" height="180.7" fill="none" stroke="#000" stroke-width="2.1"/>
<clipPath id="hc"><rect x="744.8" y="45" width="186.1" height="180.7"/></clipPath>
<g fill="none" stroke="#111" stroke-width="1.2" clip-path="url(#hc)">
<ellipse cx="838.1" cy="134.8" rx="30.99" ry="29.76"/>
<ellipse cx="838.1" cy="134.8" rx="61.98" ry="59.52"/>
<ellipse cx="838.1" cy="134.8" rx="92.97" ry="89.28"/>
</g>
<path d="M744.8,134.8 L930.9,134.8 M838.1,45 L838.1,225.7" stroke="#000" stroke-width="1.5"/>
<path d="M755.5,132.1 L755.5,137.5 M835.4,55.4 L840.8,55.4 M765.8,132.1 L765.8,137.5 M835.4,65.4 L840.8,65.4 M786.5,132.1 L786.5,137.5 M835.4,85.2 L840.8,85.2 M796.8,132.1 L796.8,137.5 M835.4,95.1 L840.8,95.1 M817.4,132.1 L817.4,137.5 M835.4,115.0 L840.8,115.0 M827.8,132.1 L827.8,137.5 M835.4,124.9 L840.8,124.9 M848.4,132.1 L848.4,137.5 M835.4,144.7 L840.8,144.7 M858.8,132.1 L858.8,137.5 M835.4,154.6 L840.8,154.6 M879.4,132.1 L879.4,137.5 M835.4,174.5 L840.8,174.5 M889.8,132.1 L889.8,137.5 M835.4,184.4 L840.8,184.4 M910.4,132.1 L910.4,137.5 M835.4,204.2 L840.8,204.2 M920.7,132.1 L920.7,137.5 M835.4,214.2 L840.8,214.2 " stroke="#000" stroke-width="1.3"/>
<text transform="translate(750.00,58.60) scale(1.1000,1)" x="-0.89" y="0" font-size="12.75" fill="#111" textLength="36.31" lengthAdjust="spacing" >knots</text>
<text transform="translate(816.4,155.8) rotate(-45)" font-size="13.5" fill="#222" text-anchor="middle" dy="4.8" textLength="14" lengthAdjust="spacingAndGlyphs">15</text>
<text transform="translate(794.2,177.5) rotate(-45)" font-size="13.5" fill="#222" text-anchor="middle" dy="4.8" textLength="14" lengthAdjust="spacingAndGlyphs">30</text>
<text transform="translate(772.8,198.3) rotate(-45)" font-size="13.5" fill="#222" text-anchor="middle" dy="4.8" textLength="14" lengthAdjust="spacingAndGlyphs">45</text>
<polyline points="826.0,163.3 832.0,157.0 836.5,154.0 841.0,158.5 843.0,166.0 837.0,162.0 832.0,156.0 830.0,148.0 829.5,144.0 822.0,143.0 815.0,140.0 811.5,136.0 817.0,133.5 827.0,135.0 834.5,137.0 835.0,140.0" fill="none" stroke="#10e010" stroke-width="2.2" stroke-linejoin="round" stroke-linecap="round"/>
<circle cx="826" cy="163.3" r="2.2" fill="#10e010"/>
<line x1="838.1" y1="134.8" x2="825" y2="152.8" stroke="#ff3030" stroke-width="1.3"/>
<polygon points="822.5,156.5 823.5,147 829.5,152" fill="#ff3030"/>
<line x1="698.3" y1="44.6" x2="698.3" y2="722" stroke="#555" stroke-width="1.5"/>
<path d="M697.8,77.8 L689.6,48.2 M689.6,48.2 L702.0,46.3 M690.7,52.3 L703.2,50.5 M691.9,56.5 L704.3,54.6" stroke="#20f090" stroke-width="2" fill="none" stroke-linecap="round"/>
<rect x="696.1" y="76.1" width="3.4" height="3.4" fill="#20f090"/>
<path d="M697.8,109.3 L690.5,81.5 M690.5,81.5 L703.0,79.8 M691.6,85.7 L704.1,83.9 M692.7,89.8 L705.2,88.1 M693.8,94.0 L699.8,92.4" stroke="#20f080" stroke-width="2" fill="none" stroke-linecap="round"/>
<rect x="696.1" y="107.6" width="3.4" height="3.4" fill="#20f080"/>
<path d="M697.8,141.9 L694.6,110.9 M694.6,110.9 L707.2,111.1 M695.0,115.2 L707.6,115.4 M695.5,119.5 L708.1,119.7 M695.9,123.7 L708.5,123.9" stroke="#20f070" stroke-width="2" fill="none" stroke-linecap="round"/>
<rect x="696.1" y="140.2" width="3.4" height="3.4" fill="#20f070"/>
<path d="M697.8,169.6 L696.0,137.4 M696.0,137.4 L708.6,138.2 M696.2,141.7 L708.8,142.5 M696.5,146.0 L709.0,146.8 M696.7,150.3 L709.3,151.1 M697.0,154.6 L703.2,154.2" stroke="#80f020" stroke-width="2" fill="none" stroke-linecap="round"/>
<rect x="696.1" y="167.9" width="3.4" height="3.4" fill="#80f020"/>
<path d="M697.8,194.2 L694.2,161.4 M694.2,161.4 L704.1,160.3 L694.5,164.4" stroke="#c0f000" stroke-width="2" fill="none" stroke-linecap="round"/>
<rect x="696.1" y="192.5" width="3.4" height="3.4" fill="#c0f000"/>
<path d="M697.8,217.0 L692.3,184.2 M692.3,184.2 L702.2,182.5 L692.8,187.2" stroke="#b0f000" stroke-width="2" fill="none" stroke-linecap="round"/>
<rect x="696.1" y="215.3" width="3.4" height="3.4" fill="#b0f000"/>
<path d="M697.8,238.2 L692.3,207.0 M692.3,207.0 L704.9,206.3 M693.0,211.2 L705.6,210.5 M693.8,215.5 L706.4,214.8 M694.5,219.7 L707.1,219.0 M695.3,223.9 L701.4,222.9" stroke="#90f010" stroke-width="2" fill="none" stroke-linecap="round"/>
<rect x="696.1" y="236.5" width="3.4" height="3.4" fill="#90f010"/>
<path d="M697.8,258.3 L693.7,226.4 M693.7,226.4 L706.3,226.3 M694.2,230.7 L706.8,230.6 M694.8,234.9 L707.4,234.8 M695.3,239.2 L707.9,239.1" stroke="#30f060" stroke-width="2" fill="none" stroke-linecap="round"/>
<rect x="696.1" y="256.6" width="3.4" height="3.4" fill="#30f060"/>
<path d="M697.8,277.4 L696.9,244.6 M696.9,244.6 L709.4,245.8 M697.0,248.9 L709.6,250.1 M697.1,253.2 L709.7,254.4 M697.3,257.5 L703.5,257.3" stroke="#20f070" stroke-width="2" fill="none" stroke-linecap="round"/>
<rect x="696.1" y="275.7" width="3.4" height="3.4" fill="#20f070"/>
<path d="M697.8,294.2 L697.3,262.8 M697.3,262.8 L709.8,264.1 M697.4,267.1 L709.9,268.4 M697.4,271.4 L710.0,272.7" stroke="#20f080" stroke-width="2" fill="none" stroke-linecap="round"/>
<rect x="696.1" y="292.5" width="3.4" height="3.4" fill="#20f080"/>
<path d="M697.8,312.4 L697.5,280.6 M697.5,280.6 L710.0,282.0 M697.5,284.9 L710.1,286.3 M697.6,289.2 L710.1,290.6" stroke="#20f090" stroke-width="2" fill="none" stroke-linecap="round"/>
<rect x="696.1" y="310.7" width="3.4" height="3.4" fill="#20f090"/>
<path d="M697.8,330.1 L699.2,299.1 M699.2,299.1 L711.6,301.2 M699.0,303.4 L711.4,305.5 M698.8,307.7 L705.1,308.0" stroke="#20f0b0" stroke-width="2" fill="none" stroke-linecap="round"/>
<rect x="696.1" y="328.4" width="3.4" height="3.4" fill="#20f0b0"/>
<path d="M697.8,349.3 L702.4,317.4 M702.4,317.4 L714.6,320.7 M701.8,321.7 L713.9,324.9" stroke="#20f0d0" stroke-width="2" fill="none" stroke-linecap="round"/>
<rect x="696.1" y="347.6" width="3.4" height="3.4" fill="#20f0d0"/>
<path d="M697.8,368.8 L703.2,337.4 M703.2,337.4 L715.3,341.0 M702.5,341.6 L714.5,345.2" stroke="#10e8f0" stroke-width="2" fill="none" stroke-linecap="round"/>
<rect x="696.1" y="367.1" width="3.4" height="3.4" fill="#10e8f0"/>
<path d="M697.8,388.8 L703.7,358.0 M703.7,358.0 L715.7,361.8 M702.9,362.2 L714.9,366.0" stroke="#10e0f0" stroke-width="2" fill="none" stroke-linecap="round"/>
<rect x="696.1" y="387.1" width="3.4" height="3.4" fill="#10e0f0"/>
<path d="M697.8,409.4 L700.0,378.4 M700.0,378.4 L712.4,380.8 M699.7,382.7 L712.1,385.1" stroke="#20e8e0" stroke-width="2" fill="none" stroke-linecap="round"/>
<rect x="696.1" y="407.7" width="3.4" height="3.4" fill="#20e8e0"/>
<path d="M697.8,431.9 L699.2,399.4 M699.2,399.4 L711.6,401.4 M699.0,403.7 L711.4,405.7" stroke="#10e0f0" stroke-width="2" fill="none" stroke-linecap="round"/>
<rect x="696.1" y="430.2" width="3.4" height="3.4" fill="#10e0f0"/>
<path d="M697.8,453.8 L695.5,421.5 M695.5,421.5 L708.1,422.1 M695.8,425.8 L708.4,426.4" stroke="#10e0f0" stroke-width="2" fill="none" stroke-linecap="round"/>
<rect x="696.1" y="452.1" width="3.4" height="3.4" fill="#10e0f0"/>
<path d="M697.8,475.6 L697.3,443.7 M697.3,443.7 L709.8,445.0 M697.4,448.0 L709.9,449.3" stroke="#10e0f0" stroke-width="2" fill="none" stroke-linecap="round"/>
<rect x="696.1" y="473.9" width="3.4" height="3.4" fill="#10e0f0"/>
<path d="M697.8,499.1 L704.3,468.4 M704.3,468.4 L716.2,472.5 M703.4,472.6 L715.3,476.7" stroke="#10e0f0" stroke-width="2" fill="none" stroke-linecap="round"/>
<rect x="696.1" y="497.4" width="3.4" height="3.4" fill="#10e0f0"/>
<path d="M697.8,523.3 L704.6,493.0 M704.6,493.0 L716.5,497.2 M703.7,497.2 L715.5,501.4" stroke="#10e0f0" stroke-width="2" fill="none" stroke-linecap="round"/>
<rect x="696.1" y="521.6" width="3.4" height="3.4" fill="#10e0f0"/>
<path d="M697.8,547.6 L704.6,516.7 M704.6,516.7 L716.5,520.9 M703.7,520.9 L715.6,525.1" stroke="#10e0f0" stroke-width="2" fill="none" stroke-linecap="round"/>
<rect x="696.1" y="545.9" width="3.4" height="3.4" fill="#10e0f0"/>
<path d="M697.8,570.4 L707.3,540.3 M707.3,540.3 L718.8,545.5 M706.0,544.4 L717.5,549.6" stroke="#10d8f0" stroke-width="2" fill="none" stroke-linecap="round"/>
<rect x="696.1" y="568.7" width="3.4" height="3.4" fill="#10d8f0"/>
<path d="M697.8,591.0 L709.3,561.7 M709.3,561.7 L720.4,567.7 M707.7,565.7 L713.5,568.0" stroke="#20b0f0" stroke-width="2" fill="none" stroke-linecap="round"/>
<rect x="696.1" y="589.3" width="3.4" height="3.4" fill="#20b0f0"/>
<path d="M697.8,608.5 L701.0,577.5 M701.0,577.5 L713.3,580.3" stroke="#2098f0" stroke-width="2" fill="none" stroke-linecap="round"/>
<rect x="696.1" y="606.8" width="3.4" height="3.4" fill="#2098f0"/>
<path d="M697.8,624.2 L694.0,593.3 M694.0,593.3 L706.6,593.3" stroke="#20b8f0" stroke-width="2" fill="none" stroke-linecap="round"/>
<rect x="696.1" y="622.5" width="3.4" height="3.4" fill="#20b8f0"/>
<path d="M697.8,639.8 L693.4,606.3 M693.4,606.3 L706.0,606.2" stroke="#20c0f0" stroke-width="2" fill="none" stroke-linecap="round"/>
<rect x="696.1" y="638.1" width="3.4" height="3.4" fill="#20c0f0"/>
<path d="M697.8,650.0 L695.8,618.8 M695.8,618.8 L708.4,619.5 M696.1,623.1 L702.3,622.7" stroke="#20c8f0" stroke-width="2" fill="none" stroke-linecap="round"/>
<rect x="696.1" y="648.3" width="3.4" height="3.4" fill="#20c8f0"/>
<path d="M697.8,661.0 L701.2,629.7 M701.2,629.7 L713.5,632.5 M700.7,634.0 L706.9,634.6" stroke="#20c0f0" stroke-width="2" fill="none" stroke-linecap="round"/>
<rect x="696.1" y="659.3" width="3.4" height="3.4" fill="#20c0f0"/>
<path d="M697.8,670.7 L712.4,641.6 M712.4,641.6 L722.9,648.5" stroke="#1a8ff0" stroke-width="2" fill="none" stroke-linecap="round"/>
<rect x="696.1" y="669.0" width="3.4" height="3.4" fill="#1a8ff0"/>
<path d="M697.8,679.0 L720.2,655.6 M717.2,658.7 L721.7,663.0" stroke="#1a8ff0" stroke-width="2" fill="none" stroke-linecap="round"/>
<rect x="696.1" y="677.3" width="3.4" height="3.4" fill="#1a8ff0"/>
<path d="M697.8,685.8 L727.5,671.3 M727.5,671.3 L731.6,683.2" stroke="#1a90f0" stroke-width="2" fill="none" stroke-linecap="round"/>
<rect x="696.1" y="684.1" width="3.4" height="3.4" fill="#1a90f0"/>
<path d="M697.8,692.6 L730.1,684.8 M730.1,684.8 L731.6,697.3" stroke="#20b0f0" stroke-width="2" fill="none" stroke-linecap="round"/>
<rect x="696.1" y="690.9" width="3.4" height="3.4" fill="#20b0f0"/>
<path d="M697.8,697.8 L730.1,696.3 M730.1,696.3 L729.2,708.9" stroke="#20b8f0" stroke-width="2" fill="none" stroke-linecap="round"/>
<rect x="696.1" y="696.1" width="3.4" height="3.4" fill="#20b8f0"/>
<path d="M697.8,703.0 L718.6,683.0 M718.6,683.0 L726.2,693.1" stroke="#1a80f0" stroke-width="2" fill="none" stroke-linecap="round"/>
<rect x="696.1" y="701.3" width="3.4" height="3.4" fill="#1a80f0"/>
<path d="M697.8,706.0 L722.0,686.0 M722.0,686.0 L728.8,696.6" stroke="#1a70f0" stroke-width="2" fill="none" stroke-linecap="round"/>
<rect x="696.1" y="704.3" width="3.4" height="3.4" fill="#1a70f0"/>
<path d="M697.8,708.0 L726.0,699.0 M726.0,699.0 L728.4,711.4" stroke="#1a80f0" stroke-width="2" fill="none" stroke-linecap="round"/>
<rect x="696.1" y="706.3" width="3.4" height="3.4" fill="#1a80f0"/>
</svg></body></html>
